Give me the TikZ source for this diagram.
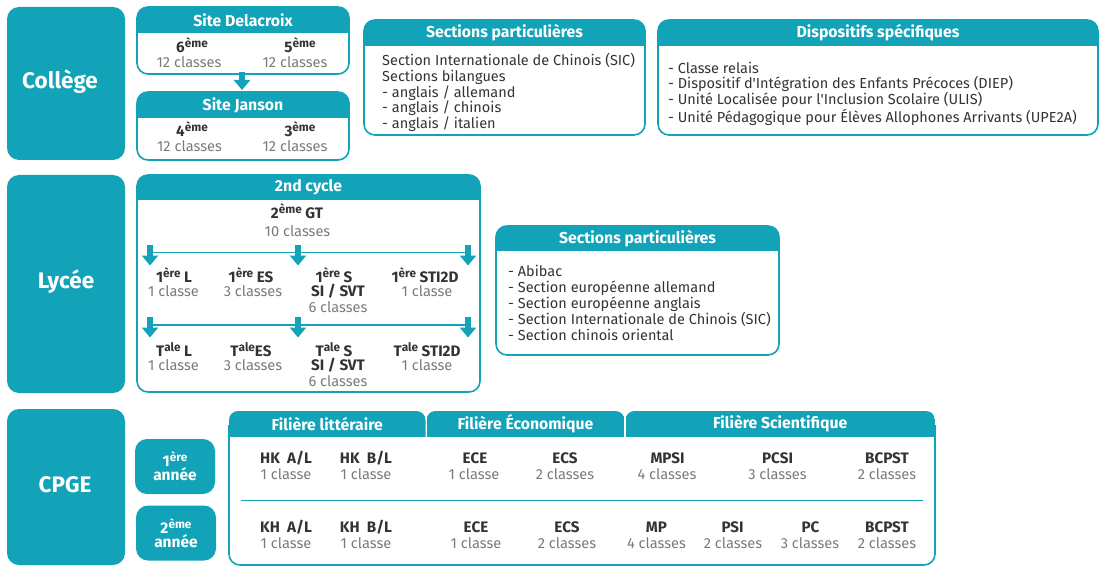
\documentclass[tikz,border=0pt]{standalone}
\usepackage{fontspec}
\setmainfont{Fira Sans}
\usetikzlibrary{arrows.meta}
\definecolor{tealc}{HTML}{12A3B8}
\definecolor{darkt}{HTML}{333333}
\definecolor{grayt}{HTML}{7A7A7A}
\newcommand\sps[1]{\raisebox{5pt}{\fontsize{11.8}{10}\selectfont #1}}
\newcommand\mypanel[7]{%
  \begin{scope}
    \clip[rounded corners=11pt] (#2,#3) rectangle (#4,{#6+20});
    \fill[tealc] (#2,#3) rectangle (#4,#6);
  \end{scope}
  \draw[tealc, line width=1.6pt, rounded corners=11pt] (#2,#3) rectangle (#4,#5);
  \node[head] (#1) at ({(#2+#4)/2},{(#3+#6)/2}) {#7};
}
\newcommand\mytab[6]{%
  \begin{scope}
    \clip[rounded corners=9pt] (#2,#3) rectangle (#4,{#5+20});
    \fill[tealc] (#2,#3) rectangle (#4,#5);
  \end{scope}
  \node[head] (#1) at ({(#2+#4)/2},{(#3+#5)/2}) {#6};
}
\begin{document}
\begin{tikzpicture}[x=1pt,y=-1pt,
  catbox/.style={fill=tealc, rounded corners=12pt, inner sep=0pt, draw=none},
  cattxt/.style={text=white, font=\fontsize{22.5}{24}\selectfont\bfseries, inner sep=0pt},
  subcat/.style={fill=tealc, rounded corners=12pt, inner sep=0pt, text=white, align=center,
     font=\fontsize{15.5}{15}\selectfont\bfseries},
  head/.style={text=white, font=\fontsize{15.8}{17}\selectfont\bfseries, inner sep=0pt},
  lab/.style={text=darkt, font=\fontsize{15.2}{16}\selectfont\bfseries, inner sep=0pt},
  cls/.style={text=grayt, font=\fontsize{14.6}{16}\selectfont, inner sep=0pt},
  lst/.style={text=darkt, font=\fontsize{14.5}{15.8}\selectfont, align=left, inner sep=0pt, anchor=west},
  bigarrow/.style={draw=tealc, line width=6.5pt, -{Triangle[width=16pt,length=10pt]}},
  hline/.style={draw=tealc, line width=1.2pt}
]
\useasboundingbox (0,0) rectangle (1102,572);

% ---------------- Collège ----------------
\node[catbox, minimum width=118pt, minimum height=153pt] (college) at (66,83.5) {};
\node[cattxt] (collegetxt) at (60,82) {Collège};

\mypanel{delacroix}{137}{7}{349}{74}{33}{Site Delacroix}
\node[lab] (d6) at (192,45.5) {6\sps{ème}};
\node[cls] (d6c) at (189,62.5) {12 classes};
\node[lab] (d5) at (300,45.5) {5\sps{ème}};
\node[cls] (d5c) at (295,62.5) {12 classes};

\mypanel{janson}{137}{92}{349}{160}{118}{Site Janson}
\node[lab] (d4) at (192,129) {4\sps{ème}};
\node[cls] (d4c) at (189.5,146.5) {12 classes};
\node[lab] (d3) at (300,129) {3\sps{ème}};
\node[cls] (d3c) at (295,146.5) {12 classes};

\coordinate (ca) at (242,72);
\coordinate (cb) at (242,90);
\draw[bigarrow] (ca) -- (cb);

\mypanel{spcol}{364}{20}{645}{135}{46}{Sections particulières}
\node[lst] (spcollist) at (382,92.5) {Section Internationale de Chinois (SIC)\\Sections bilangues\\- anglais / allemand\\- anglais / chinois\\- anglais / italien};

\mypanel{dispo}{658}{20}{1098}{135}{46}{Dispositifs spécifiques}
\node[lst] (dispolist) at (668,93.5) {- Classe relais\\- Dispositif d\textquotesingle Intégration des Enfants Précoces (DIEP)\\- Unité Localisée pour l\textquotesingle Inclusion Scolaire (ULIS)\\- Unité Pédagogique pour Élèves Allophones Arrivants (UPE2A)};

% ---------------- Lycée ----------------
\node[catbox, minimum width=118pt, minimum height=218pt] (lycee) at (66,284) {};
\node[cattxt] (lyceetxt) at (66,282) {Lycée};

\mypanel{cycle}{137}{175}{480}{392}{200}{2nd cycle}
\node[lab] (gt) at (297,211.5) {2\sps{ème} GT};
\node[cls] (gtc) at (297.5,231) {10 classes};

\coordinate (l1a) at (150,252.5);
\coordinate (l1b) at (468,252.5);
\draw[hline] (l1a) -- (l1b);
\coordinate (a1s) at (150,245); \coordinate (a1e) at (150,265.5);
\coordinate (a2s) at (298,245); \coordinate (a2e) at (298,265.5);
\coordinate (a3s) at (468,245); \coordinate (a3e) at (468,265.5);
\draw[bigarrow] (a1s) -- (a1e);
\draw[bigarrow] (a2s) -- (a2e);
\draw[bigarrow] (a3s) -- (a3e);

\node[lab] (pl) at (174,275.5) {1\sps{ère} L};
\node[cls] (plc) at (173.5,291) {1 classe};
\node[lab] (pes) at (251,275.5) {1\sps{ère} ES};
\node[cls] (pesc) at (253,291) {3 classes};
\node[lab] (ps) at (334,275.5) {1\sps{ère} S};
\node[lab] (pssi) at (338,291) {SI / SVT};
\node[cls] (psc) at (338,307) {6 classes};
\node[lab] (psti) at (425,275.5) {1\sps{ère} STI2D};
\node[cls] (pstic) at (427,291) {1 classe};

\coordinate (l2a) at (150,325);
\coordinate (l2b) at (468,325);
\draw[hline] (l2a) -- (l2b);
\coordinate (b1s) at (150,317); \coordinate (b1e) at (150,337.5);
\coordinate (b2s) at (298,317); \coordinate (b2e) at (298,337.5);
\coordinate (b3s) at (468,317); \coordinate (b3e) at (468,337.5);
\draw[bigarrow] (b1s) -- (b1e);
\draw[bigarrow] (b2s) -- (b2e);
\draw[bigarrow] (b3s) -- (b3e);

\node[lab] (tl) at (174,349.5) {T\sps{ale} L};
\node[cls] (tlc) at (173.5,365) {1 classe};
\node[lab] (tes) at (251,349.5) {T\sps{ale}ES};
\node[cls] (tesc) at (253,365) {3 classes};
\node[lab] (ts) at (334,349.5) {T\sps{ale} S};
\node[lab] (tssi) at (338,365) {SI / SVT};
\node[cls] (tsc) at (338,381) {6 classes};
\node[lab] (tsti) at (427,349.5) {T\sps{ale} STI2D};
\node[cls] (tstic) at (427,365) {1 classe};

\mypanel{splyc}{496}{226}{779}{355}{251}{Sections particulières}
\node[lst] (splyclist) at (508,303) {- Abibac\\- Section européenne allemand\\- Section européenne anglais\\- Section Internationale de Chinois (SIC)\\- Section chinois oriental};

% ---------------- CPGE ----------------
\node[catbox, minimum width=118pt, minimum height=156pt] (cpge) at (66,487) {};
\node[cattxt] (cpgetxt) at (65,485) {CPGE};

\node[subcat, minimum width=80pt, minimum height=55pt] (an1) at (175,466.5) {1\sps{ère}\\[-1pt]année};
\node[subcat, minimum width=80pt, minimum height=55pt] (an2) at (176,533) {2\sps{ème}\\[-1pt]année};

\draw[tealc, line width=1.6pt, rounded corners=11pt] (229,425) -- (229,565) -- (935,565) -- (935,425);
\mytab{flit}{229}{411}{425.5}{437}{Filière littéraire}
\mytab{feco}{426.5}{411}{624.5}{437}{Filière Économique}
\mytab{fsci}{625.5}{411}{935}{437}{Filière Scientifique}

\coordinate (sepa) at (241,500.5);
\coordinate (sepb) at (923,500.5);
\draw[hline] (sepa) -- (sepb);

\node[lab] (hka) at (286,458.5) {HK\ \ A/L};
\node[cls] (hkac) at (286,474) {1 classe};
\node[lab] (hkb) at (366,458.5) {HK\ \ B/L};
\node[cls] (hkbc) at (366,474) {1 classe};
\node[lab] (ece1) at (475,458.5) {ECE};
\node[cls] (ece1c) at (474,474) {1 classe};
\node[lab] (ecs1) at (565,458.5) {ECS};
\node[cls] (ecs1c) at (565,474) {2 classes};
\node[lab] (mpsi) at (667.5,458.5) {MPSI};
\node[cls] (mpsic) at (667,474) {4 classes};
\node[lab] (pcsi) at (777.5,458.5) {PCSI};
\node[cls] (pcsic) at (777.5,474) {3 classes};
\node[lab] (bc1) at (887,458.5) {BCPST};
\node[cls] (bc1c) at (887,474) {2 classes};

\node[lab] (kha) at (286,527.5) {KH\ \ A/L};
\node[cls] (khac) at (286,543) {1 classe};
\node[lab] (khb) at (366,527.5) {KH\ \ B/L};
\node[cls] (khbc) at (366,543) {1 classe};
\node[lab] (ece2) at (476,527.5) {ECE};
\node[cls] (ece2c) at (476,543) {1 classe};
\node[lab] (ecs2) at (567,527.5) {ECS};
\node[cls] (ecs2c) at (567,543) {2 classes};
\node[lab] (mp) at (656.5,527.5) {MP};
\node[cls] (mpc) at (656.5,543) {4 classes};
\node[lab] (psi) at (732.5,527.5) {PSI};
\node[cls] (psic) at (733,543) {2 classes};
\node[lab] (pc) at (810.5,527.5) {PC};
\node[cls] (pcc) at (810,543) {3 classes};
\node[lab] (bc2) at (887,527.5) {BCPST};
\node[cls] (bc2c) at (887,543) {2 classes};
\end{tikzpicture}
\end{document}
